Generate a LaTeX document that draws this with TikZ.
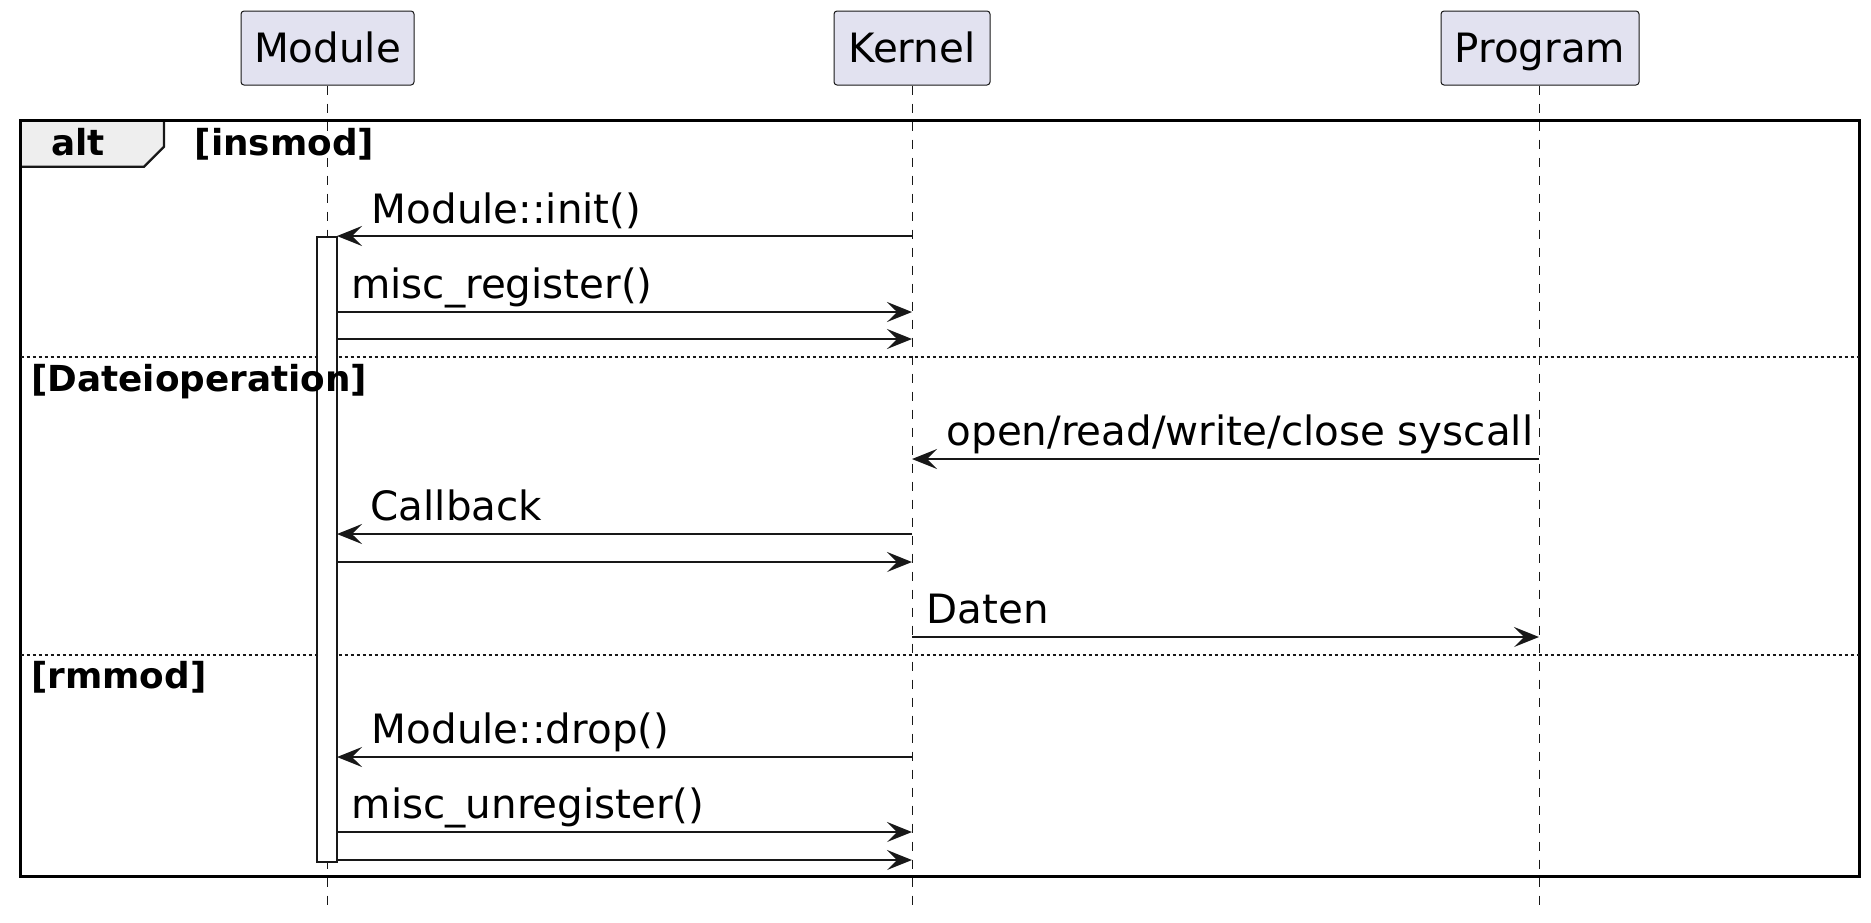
\documentclass[tikz,border=0pt]{standalone}
\usepackage{fontspec}
\setmainfont{DejaVu Sans}
\usetikzlibrary{arrows.meta}

\definecolor{umlline}{HTML}{181818}
\definecolor{umlpart}{HTML}{E2E2F0}
\definecolor{umltab}{HTML}{EEEEEE}

\tikzset{every picture/.style={line width=0.75pt}}
\tikzset{
  party/.style={draw=umlline, fill=umlpart, rounded corners=1.5pt, line width=0.5pt,
    minimum width=#1, minimum height=37pt, inner sep=0pt, text height=14pt, text depth=0pt,
    font=\fontsize{20.2}{24}\selectfont},
  lifeline/.style={draw=umlline, line width=0.5pt, dash pattern=on 4.5pt off 4.5pt},
  msg/.style={draw=umlline, line width=0.8pt, -{Stealth[length=12.5pt,width=10pt,inset=5pt]}},
  msglabel/.style={anchor=base west, inner sep=0pt, font=\fontsize{20.2}{24}\selectfont},
  guard/.style={anchor=base west, inner sep=0pt, font=\fontsize{17.9}{21}\selectfont\bfseries},
  separator/.style={draw=umlline, line width=0.6pt, dash pattern=on 1.5pt off 1.5pt},
}

\begin{document}
\begin{tikzpicture}[x=0.5pt,y=0.5pt,yscale=-1,xscale=1]
\useasboundingbox (0,0) rectangle (1871,922);

% Participants
\node[party=86.5pt] (Module) at (327.5,48) {Module};
\node[party=78pt] (Kernel) at (912,48) {Kernel};
\node[party=99pt] (Program) at (1540,48) {Program};

% Lifelines
\coordinate (Module-end) at (327,912);
\coordinate (Kernel-end) at (912,912);
\coordinate (Program-end) at (1539,912);
\draw[lifeline] (Module.south -| Module-end) -- (Module-end);
\draw[lifeline] (Kernel.south -| Kernel-end) -- (Kernel-end);
\draw[lifeline] (Program.south -| Program-end) -- (Program-end);

% alt frame
\draw[draw=umlline, fill=umltab, line width=1.2pt] (20.7,120.7) -- (164,120.7) -- (164,146.7) -- (144,166.7) -- (20.7,166.7) -- cycle;
\draw[draw=black, line width=1.5pt] (20.7,120.7) rectangle (1859,876);

% else separators
\draw[separator] (20.7,357) -- (1859,357);
\draw[separator] (20.7,655) -- (1859,655);

% Activation of Module
\node[draw=umlline, fill=white, line width=0.75pt, minimum width=10pt, minimum height=312.5pt,
  inner sep=0pt, anchor=north] (act) at (327,236) {};

% Guards
\node[guard] (alt) at (50.5,155) {alt};
\node[guard] (insmod) at (194,155) {[insmod]};
\node[guard] (dateiop) at (30.5,391) {[Dateioperation]};
\node[guard] (rmmod) at (30.5,688) {[rmmod]};

% Message end points
\coordinate (k1) at (912,236);   \coordinate (a1) at (337,236);
\coordinate (a2) at (337,312);   \coordinate (k2) at (912,312);
\coordinate (a3) at (337,339);   \coordinate (k3) at (912,339);
\coordinate (p4) at (1539,459);  \coordinate (k4) at (912,459);
\coordinate (k5) at (912,534);   \coordinate (a5) at (337,534);
\coordinate (a6) at (337,562);   \coordinate (k6) at (912,562);
\coordinate (k7) at (912,637);   \coordinate (p7) at (1539,637);
\coordinate (k8) at (912,757);   \coordinate (a8) at (337,757);
\coordinate (a9) at (337,832);   \coordinate (k9) at (912,832);
\coordinate (a10) at (337,860);  \coordinate (k10) at (912,860);

% Messages
\draw[msg] (k1) -- (a1);
\node[msglabel] (l1) at (371,223) {Module::init()};
\draw[msg] (a2) -- (k2);
\node[msglabel] (l2) at (350.5,298) {misc\_register()};
\draw[msg] (a3) -- (k3);
\draw[msg] (p4) -- (k4);
\node[msglabel] (l4) at (946,445) {open/read/write/close syscall};
\draw[msg] (k5) -- (a5);
\node[msglabel] (l5) at (370,520) {Callback};
\draw[msg] (a6) -- (k6);
\draw[msg] (k7) -- (p7);
\node[msglabel] (l7) at (926,623) {Daten};
\draw[msg] (k8) -- (a8);
\node[msglabel] (l8) at (371,743) {Module::drop()};
\draw[msg] (a9) -- (k9);
\node[msglabel] (l9) at (351,818) {misc\_unregister()};
\draw[msg] (a10) -- (k10);

\end{tikzpicture}
\end{document}
